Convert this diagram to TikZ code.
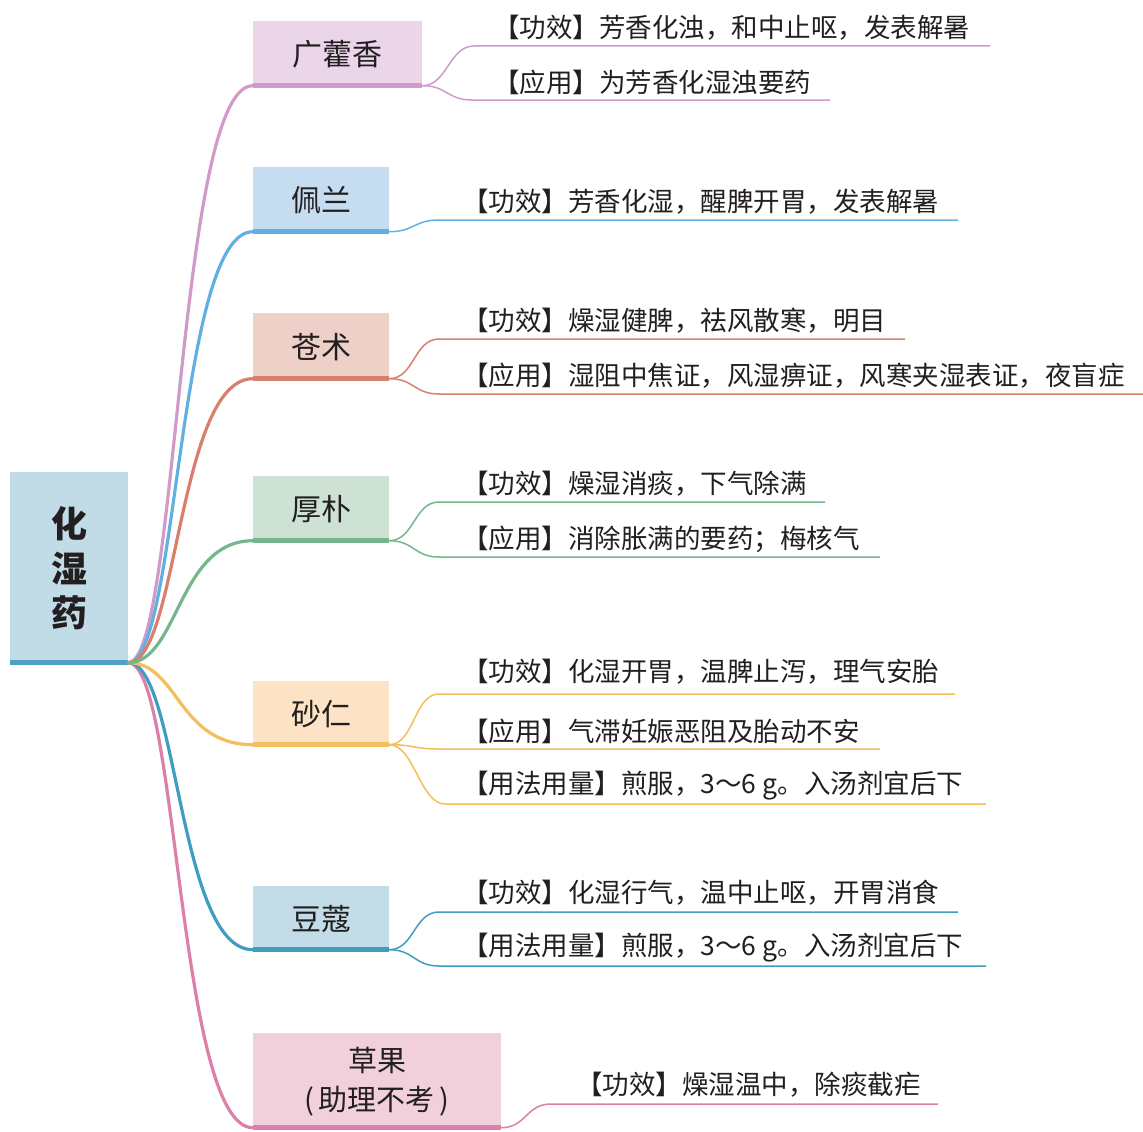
\documentclass[tikz,border=0pt]{standalone}
\usepackage{fontspec}
\setmainfont{Noto Sans CJK SC}
\definecolor{txt}{HTML}{231F20}
\definecolor{f1}{HTML}{EBD5E9}\definecolor{c1}{HTML}{D09BC9}
\definecolor{f2}{HTML}{C6DDF1}\definecolor{c2}{HTML}{62B0E2}
\definecolor{f3}{HTML}{EFD0C9}\definecolor{c3}{HTML}{D8806E}
\definecolor{f4}{HTML}{CDE2D5}\definecolor{c4}{HTML}{76B68C}
\definecolor{f5}{HTML}{FDE3C5}\definecolor{c5}{HTML}{F5BE5C}
\definecolor{f6}{HTML}{C2DCE8}\definecolor{c6}{HTML}{3D9EBF}
\definecolor{f7}{HTML}{F1D0DC}\definecolor{c7}{HTML}{DC80A9}
\definecolor{f0}{HTML}{C1DBE7}\definecolor{c0}{HTML}{4CA2C4}
\begin{document}
\begin{tikzpicture}[x=1pt,y=-1pt,
  box/.style={rectangle,inner sep=0pt,text=txt,font=\fontsize{30}{34}\selectfont},
  leaf/.style={anchor=west,inner sep=0pt,text=txt,font=\fontsize{26.5}{30}\selectfont},
  trunk/.style={line width=3.2pt,line cap=round},
  twig/.style={line width=1.5pt}]
\useasboundingbox[fill=white] (0,0) rectangle (1143,1132);

% root
\node[box,fill=f0,minimum width=118pt,minimum height=193pt,align=center,
  font=\fontsize{36}{44.5}\selectfont\bfseries] (root) at (69,568.5) {化\\湿\\药};
\fill[c0] ([yshift=5pt]root.south west) rectangle (root.south east);
\coordinate (r0) at ([yshift=2.5pt]root.south east);

% main nodes
\node[box,fill=f1,minimum width=169pt,minimum height=67pt] (n1) at (337.5,54.5) {广藿香};
\node[box,fill=f2,minimum width=136pt,minimum height=67pt] (n2) at (321,200.5) {佩兰};
\node[box,fill=f3,minimum width=136pt,minimum height=68pt] (n3) at (321,347) {苍术};
\node[box,fill=f4,minimum width=136pt,minimum height=67pt] (n4) at (321,509.5) {厚朴};
\node[box,fill=f5,minimum width=136pt,minimum height=66pt] (n5) at (321,714) {砂仁};
\node[box,fill=f6,minimum width=136pt,minimum height=66pt] (n6) at (321,919) {豆蔻};
\node[box,fill=f7,minimum width=248pt,minimum height=97pt,align=center,
  font=\fontsize{29}{39}\selectfont] (n7) at (377,1081.5) {草果\\(\,助理不考\,)};

\foreach \n/\c in {n1/c1,n2/c2,n3/c3,n4/c4,n5/c5,n6/c6,n7/c7}{
  \fill[\c] ([yshift=5pt]\n.south west) rectangle (\n.south east);
}

% trunks
\foreach \n/\c in {n7/c7,n6/c6,n5/c5,n1/c1,n2/c2,n3/c3,n4/c4}{
  \draw[trunk,\c] (r0) .. controls +(50,0) and +(-75,0) .. ([yshift=2.5pt]\n.south west);
}

% leaves: coordinates
\coordinate (a1) at (474,46);  \coordinate (b1) at (990,46);
\coordinate (a2) at (472,100); \coordinate (b2) at (830,100);
\coordinate (a3) at (439,220); \coordinate (b3) at (958,220);
\coordinate (a4) at (439,339); \coordinate (b4) at (905,339);
\coordinate (a5) at (439,394); \coordinate (b5) at (1143,394);
\coordinate (a6) at (439,502); \coordinate (b6) at (825,502);
\coordinate (a7) at (439,557); \coordinate (b7) at (880,557);
\coordinate (a8) at (439,694); \coordinate (b8) at (955,694);
\coordinate (a9) at (439,749); \coordinate (b9) at (880,749);
\coordinate (a10) at (445,804); \coordinate (b10) at (986,804);
\coordinate (a11) at (439,912); \coordinate (b11) at (958,912);
\coordinate (a12) at (439,966); \coordinate (b12) at (986,966);
\coordinate (a13) at (551,1104); \coordinate (b13) at (938,1104);

\node[leaf] (t1) at (493,28) {【功效】芳香化浊，和中止呕，发表解暑};
\node[leaf] (t2) at (493,82) {【应用】为芳香化湿浊要药};
\node[leaf] (t3) at (462,202) {【功效】芳香化湿，醒脾开胃，发表解暑};
\node[leaf] (t4) at (462,321) {【功效】燥湿健脾，祛风散寒，明目};
\node[leaf] (t5) at (462,376) {【应用】湿阻中焦证，风湿痹证，风寒夹湿表证，夜盲症};
\node[leaf] (t6) at (462,484) {【功效】燥湿消痰，下气除满};
\node[leaf] (t7) at (462,539) {【应用】消除胀满的要药；梅核气};
\node[leaf] (t8) at (462,672) {【功效】化湿开胃，温脾止泻，理气安胎};
\node[leaf] (t9) at (462,731) {【应用】气滞妊娠恶阻及胎动不安};
\node[leaf] (t10) at (462,786) {【用法用量】煎服，3～6 g。入汤剂宜后下};
\node[leaf] (t11) at (462,893) {【功效】化湿行气，温中止呕，开胃消食};
\node[leaf] (t12) at (462,948) {【用法用量】煎服，3～6 g。入汤剂宜后下};
\node[leaf] (t13) at (576,1085) {【功效】燥湿温中，除痰截疟};

\foreach \n/\c/\k in {n1/c1/1,n1/c1/2,n2/c2/3,n3/c3/4,n3/c3/5,n4/c4/6,n4/c4/7,
  n5/c5/8,n5/c5/9,n5/c5/10,n6/c6/11,n6/c6/12,n7/c7/13}{
  \draw[twig,\c] ([yshift=2.5pt]\n.south east) .. controls +(25,0) and +(-25,0) .. (a\k) -- (b\k);
}
\end{tikzpicture}
\end{document}
